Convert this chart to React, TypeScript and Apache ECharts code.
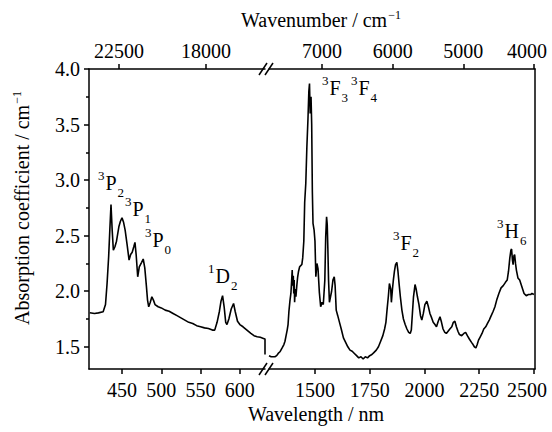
import React, { useEffect, useRef } from "react";
import * as echarts from "echarts";

// ---- data ----
const leftWavelength = [
  409, 415, 420, 426, 429, 431, 433, 434.5, 436, 437.5, 439, 441, 443, 446, 448, 450, 452, 454, 456.5,
  459, 461, 463, 465, 466.5, 468, 470, 472, 473.5, 475, 477, 479, 481, 482.5, 484, 486, 488, 490, 492,
  496, 500, 505, 510, 515, 520, 525, 530, 535, 540, 545, 550, 555, 560, 565, 568, 571, 574, 576, 578,
  580, 582, 583.6, 586, 589, 592, 594, 597, 600, 604, 609, 614, 618, 622, 626, 630, 632, 632,
];
const leftAbsorption = [
  1.806, 1.8, 1.805, 1.815, 1.88, 2.07, 2.31, 2.55, 2.78, 2.55, 2.37, 2.4, 2.45, 2.58, 2.63, 2.66, 2.62,
  2.55, 2.42, 2.28, 2.33, 2.35, 2.4, 2.44, 2.33, 2.13, 2.22, 2.24, 2.26, 2.29, 2.21, 2.05, 1.92, 1.86,
  1.9, 1.95, 1.92, 1.88, 1.86, 1.85, 1.83, 1.82, 1.8, 1.78, 1.76, 1.74, 1.72, 1.71, 1.69, 1.68, 1.67,
  1.665, 1.65, 1.65, 1.72, 1.82, 1.91, 1.96, 1.86, 1.72, 1.7, 1.75, 1.84, 1.89, 1.82, 1.73, 1.7, 1.68,
  1.65, 1.62, 1.6, 1.59, 1.585, 1.575, 1.57, 1.43,
];
const rightWavelength = [
  1290, 1300, 1310, 1317, 1325, 1332, 1340, 1350, 1358, 1363, 1368, 1373, 1377, 1381, 1386, 1390, 1393,
  1396, 1398, 1401, 1403, 1405, 1407, 1410, 1413, 1417, 1421, 1425, 1430, 1435, 1440, 1444, 1449, 1453,
  1458, 1463, 1468, 1472, 1475, 1478, 1482, 1485, 1488, 1491, 1496, 1500, 1504, 1509, 1514, 1520, 1526,
  1532, 1538, 1545, 1549, 1553, 1556, 1559, 1562, 1566, 1571, 1576, 1582, 1588, 1592, 1597, 1604, 1612,
  1620, 1630, 1640, 1650, 1660, 1670, 1680, 1690, 1700, 1710, 1720, 1730, 1740, 1750, 1760, 1770, 1780,
  1790, 1800, 1810, 1818, 1824, 1830, 1835, 1840, 1846, 1849, 1854, 1858, 1863, 1868, 1874, 1879, 1884,
  1890, 1897, 1904, 1912, 1920, 1928, 1935, 1940, 1945, 1950, 1957, 1962, 1968, 1975, 1982, 1988, 1995,
  2002, 2011, 2018, 2025, 2033, 2040, 2048, 2055, 2063, 2071, 2078, 2085, 2093, 2100, 2108, 2116, 2125,
  2132, 2139, 2146, 2153, 2160, 2170, 2180, 2188, 2196, 2205, 2215, 2222, 2228, 2235, 2241, 2247, 2255,
  2263, 2271, 2280, 2288, 2296, 2305, 2314, 2322, 2330, 2340, 2350, 2360, 2370, 2378, 2384, 2390, 2395,
  2398, 2402, 2405, 2409, 2412, 2416, 2420, 2427, 2435, 2445, 2455, 2465, 2475, 2485, 2491, 2500,
];
const rightAbsorption = [
  1.42, 1.41, 1.41, 1.41, 1.42, 1.44, 1.455, 1.49, 1.52, 1.55, 1.6, 1.65, 1.7, 1.82, 1.92, 1.98, 2.08,
  2.19, 2.05, 2.14, 1.98, 2.1, 1.9, 2.02, 1.95, 2.05, 2.13, 2.18, 2.22, 2.23, 2.24, 2.3, 2.45, 2.8, 2.97,
  3.3, 3.55, 3.8, 3.87, 3.6, 3.75, 3.5, 2.9, 2.61, 2.55, 2.45, 2.13, 2.25, 2.2, 1.99, 1.86, 1.9, 1.88,
  2.1, 2.49, 2.67, 2.6, 2.37, 2.1, 1.9, 1.95, 2.0, 2.1, 2.13, 2.05, 1.83, 1.78, 1.72, 1.66, 1.58, 1.54,
  1.5, 1.47, 1.46, 1.44, 1.42, 1.4, 1.41, 1.39, 1.41, 1.4, 1.42, 1.43, 1.45, 1.47, 1.5, 1.55, 1.6, 1.66,
  1.72, 1.85, 1.95, 2.07, 2.02, 1.9, 2.02, 2.1, 2.18, 2.24, 2.26, 2.18, 2.07, 1.95, 1.83, 1.75, 1.7,
  1.66, 1.63, 1.62, 1.65, 1.8, 1.95, 2.06, 2.02, 1.95, 1.88, 1.78, 1.74, 1.8, 1.88, 1.91, 1.86, 1.8,
  1.76, 1.72, 1.7, 1.68, 1.73, 1.77, 1.72, 1.66, 1.63, 1.62, 1.64, 1.66, 1.68, 1.72, 1.73, 1.68, 1.64,
  1.61, 1.6, 1.62, 1.63, 1.6, 1.57, 1.54, 1.52, 1.5, 1.49, 1.52, 1.56, 1.59, 1.62, 1.66, 1.68, 1.71,
  1.74, 1.78, 1.82, 1.86, 1.92, 1.98, 2.03, 2.05, 2.08, 2.1, 2.18, 2.3, 2.37, 2.38, 2.28, 2.24, 2.32,
  2.33, 2.25, 2.19, 2.12, 2.1, 2.04, 1.98, 1.96, 1.97, 1.97, 1.98, 1.97,
];

const bottomLeftTicks = [450, 500, 550, 600];
const bottomRightTicks = [1500, 1750, 2000, 2250, 2500];
const topLeftTicks = [18000, 22500];
const topRightTicks = [4000, 5000, 6000, 7000];
const yTicks = [1.5, 2.0, 2.5, 3.0, 3.5, 4.0];
const yMinorTicks = [1.75, 2.25, 2.75, 3.25, 3.75];

// term symbols: [multiplicity, letter, J]
const termLabels = [
  ["3", "P", "2"],
  ["3", "P", "1"],
  ["3", "P", "0"],
  ["1", "D", "2"],
  ["3", "F", "3"],
  ["3", "F", "4"],
  ["3", "F", "2"],
  ["3", "H", "6"],
];

const xTitle = "Wavelength / nm";
const topTitle = "Wavenumber / cm";
const yTitle = "Absorption coefficient / cm";

const FONT = "Liberation Serif, Times New Roman, serif";

export default function App() {
  const ref = useRef<HTMLDivElement>(null);

  useEffect(() => {
    document.body.style.margin = "0";
    if (!ref.current) return;
    const chart = echarts.init(ref.current, undefined, { renderer: "svg" });

    const lineStyle = { color: "#000", width: 1.5 };
    const edgeRich = { e: { fontSize: 20, fontFamily: FONT, color: "#000", padding: [0, 14, 0, 0] } };
    const label = (margin: number, ticks: number[], fmt?: (v: number) => string) => ({
      show: true,
      customValues: ticks,
      margin,
      color: "#000",
      fontSize: 20,
      fontFamily: FONT,
      rich: edgeRich,
      formatter: fmt || ((v: number) => String(v)),
    });
    const edgeFmt = (edge: number) => (v: number) => (v === edge ? `{e|${v}}` : String(v));
    const xAx = (
      gridIndex: number,
      position: string,
      min: number,
      max: number,
      ticks: number[],
      inverse: boolean,
      margin: number,
      fmt?: (v: number) => string
    ) => ({
      type: "value",
      gridIndex,
      position,
      min,
      max,
      inverse,
      splitLine: { show: false },
      axisLine: { show: true, onZero: false, lineStyle },
      axisTick: { show: true, inside: false, length: 5, customValues: ticks, lineStyle },
      axisLabel: label(margin, ticks, fmt),
    });

    const sub = { fontSize: 13, fontFamily: FONT, color: "#000", lineHeight: 13, verticalAlign: "bottom", padding: [0, 0, 0, 1] };
    const sup = { fontSize: 13, fontFamily: FONT, color: "#000", lineHeight: 13, verticalAlign: "top", padding: [2, 1, 0, 0] };
    const main = { fontSize: 20, fontFamily: FONT, color: "#000", lineHeight: 32 };
    const termRich = { sup, m: main, sub };
    const termPos = [
      [98, 167],
      [125, 193],
      [145, 224],
      [208, 260],
      [322, 72],
      [351, 72],
      [393, 227],
      [497, 215],
    ];

    const titleRich = {
      t: { fontSize: 20, fontFamily: FONT, color: "#000", lineHeight: 24 },
      s: { fontSize: 12, fontFamily: FONT, color: "#000", lineHeight: 12, verticalAlign: "top", padding: [1, 0, 0, 1] },
    };

    const slash = (x: number, y: number) => ({
      type: "line",
      shape: { x1: x, y1: y + 6, x2: x + 8, y2: y - 6 },
      style: { stroke: "#000", lineWidth: 1.5 },
    });

    chart.setOption({
      animation: false,
      backgroundColor: "#fff",
      grid: [
        { left: 89, top: 69, width: 176, height: 300, outerBoundsMode: "none", containLabel: false },
        { left: 269, top: 69, width: 266, height: 300, outerBoundsMode: "none", containLabel: false },
      ],
      xAxis: [
        xAx(0, "bottom", 408, 632, bottomLeftTicks, false, 11),
        xAx(0, "top", 14949, 24052, topLeftTicks, true, 8),
        xAx(1, "bottom", 1290, 2505, bottomRightTicks, false, 11, edgeFmt(2500)),
        xAx(1, "top", 3986, 7750, topRightTicks, true, 8, edgeFmt(4000)),
      ],
      yAxis: [
        {
          type: "value",
          gridIndex: 0,
          position: "left",
          min: 1.3,
          max: 4.0,
          splitLine: { show: false },
          axisLine: { show: true, onZero: false, lineStyle },
          axisTick: { show: true, length: 5, customValues: yTicks, lineStyle },
          axisLabel: label(9, yTicks, (v: number) => v.toFixed(1)),
        },
        {
          type: "value",
          gridIndex: 0,
          position: "left",
          min: 1.3,
          max: 4.0,
          splitLine: { show: false },
          axisLine: { show: false },
          axisTick: { show: true, length: 3, customValues: yMinorTicks, lineStyle },
          axisLabel: { show: false },
        },
        {
          type: "value",
          gridIndex: 1,
          position: "right",
          min: 1.3,
          max: 4.0,
          splitLine: { show: false },
          axisLine: { show: true, onZero: false, lineStyle },
          axisTick: { show: false },
          axisLabel: { show: false },
        },
      ],
      series: [
        {
          type: "line",
          xAxisIndex: 0,
          yAxisIndex: 0,
          symbol: "none",
          lineStyle: { color: "#000", width: 1.6 },
          data: leftWavelength.map((w, i) => [w, leftAbsorption[i]]),
        },
        {
          type: "line",
          xAxisIndex: 2,
          yAxisIndex: 2,
          symbol: "none",
          lineStyle: { color: "#000", width: 1.6 },
          data: rightWavelength.map((w, i) => [w, rightAbsorption[i]]),
        },
      ],
      graphic: [
        slash(259, 69),
        slash(265, 69),
        slash(259, 369),
        slash(265, 369),
        ...termLabels.map((t, i) => ({
          type: "text",
          x: termPos[i][0],
          y: termPos[i][1],
          style: {
            text: `{sup|${t[0]}}{m|${t[1]}}{sub|${t[2]}}`,
            rich: termRich,
            align: "left",
            verticalAlign: "top",
          },
        })),
        {
          type: "text",
          x: 316,
          y: 414,
          style: { text: `{t|${xTitle}}`, rich: titleRich, align: "center", verticalAlign: "middle" },
        },
        {
          type: "text",
          x: 321,
          y: 20,
          style: { text: `{t|${topTitle}}{s|−1}`, rich: titleRich, align: "center", verticalAlign: "middle" },
        },
        {
          type: "text",
          x: 22,
          y: 208,
          rotation: Math.PI / 2,
          style: { text: `{t|${yTitle}}{s|−1}`, rich: titleRich, align: "center", verticalAlign: "middle" },
        },
      ],
    });

    return () => chart.dispose();
  }, []);

  return <div ref={ref} style={{ width: 552, height: 432 }} />;
}
